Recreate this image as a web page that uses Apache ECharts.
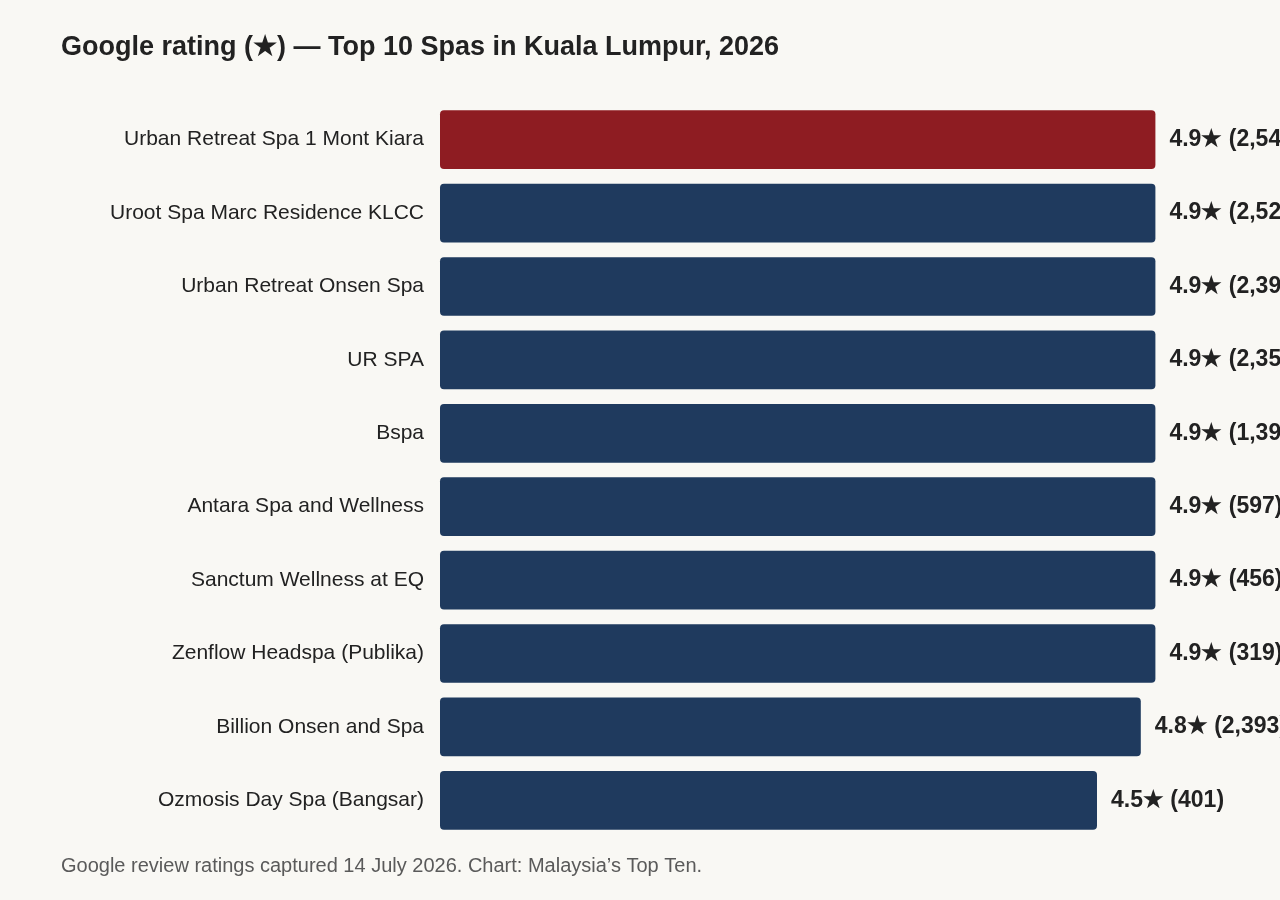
<!DOCTYPE html>
<html>
<head>
<meta charset="utf-8">
<style>
  html, body { margin: 0; padding: 0; background: #f9f8f4; }
  #chart { width: 1280px; height: 900px; }
</style>
<script src="https://cdn.jsdelivr.net/npm/echarts@6/dist/echarts.min.js"></script>
</head>
<body>
<div id="chart"></div>
<script>
// spa names, top to bottom
const spas = [
  "Urban Retreat Spa 1 Mont Kiara",
  "Uroot Spa Marc Residence KLCC",
  "Urban Retreat Onsen Spa",
  "UR SPA",
  "Bspa",
  "Antara Spa and Wellness",
  "Sanctum Wellness at EQ",
  "Zenflow Headspa (Publika)",
  "Billion Onsen and Spa",
  "Ozmosis Day Spa (Bangsar)"
];
// google rating
const ratings = [4.9, 4.9, 4.9, 4.9, 4.9, 4.9, 4.9, 4.9, 4.8, 4.5];
// number of reviews (some cut off at the right edge in the source)
const reviews = [2541, 2523, 2397, 2352, 1394, 597, 456, 319, 2393, 401];

const RED = "#8e1c22";
const NAVY = "#1f3a5e";
const FONT = "Liberation Sans, Arial, sans-serif";

const chart = echarts.init(document.getElementById("chart"));

const option = {
  backgroundColor: "#f9f8f4",
  animation: false,
  title: {
    text: "Google rating (★) — Top 10 Spas in Kuala Lumpur, 2026",
    left: 61,
    top: 34,
    padding: 0,
    textStyle: {
      fontFamily: FONT,
      fontSize: 27,
      fontWeight: "bold",
      color: "#222"
    }
  },
  graphic: [
    {
      type: "text",
      left: 61,
      top: 856,
      style: {
        text: "Google review ratings captured 14 July 2026. Chart: Malaysia’s Top Ten.",
        font: "20px Liberation Sans, Arial, sans-serif",
        fill: "#5a5a5a"
      }
    }
  ],
  grid: {
    left: 440,
    width: 730,
    top: 103,
    bottom: 63,
    containLabel: false
  },
  xAxis: {
    type: "value",
    min: 0,
    max: 5,
    show: false
  },
  yAxis: {
    type: "category",
    data: spas,
    inverse: true,
    axisLine: { show: false },
    axisTick: { show: false },
    axisLabel: {
      margin: 16,
      fontFamily: FONT,
      fontSize: 21,
      color: "#222"
    }
  },
  series: [
    {
      type: "bar",
      data: ratings.map((v, i) => ({
        value: v,
        itemStyle: { color: i === 0 ? RED : NAVY }
      })),
      barCategoryGap: "20%",
      itemStyle: { borderRadius: 4 },
      label: {
        show: true,
        position: "right",
        distance: 14,
        fontFamily: FONT,
        fontSize: 23,
        fontWeight: "bold",
        color: "#222",
        formatter: (p) => p.value.toFixed(1) + "★ (" + reviews[p.dataIndex].toLocaleString("en-US") + ")"
      }
    }
  ]
};

chart.setOption(option);
</script>
</body>
</html>
